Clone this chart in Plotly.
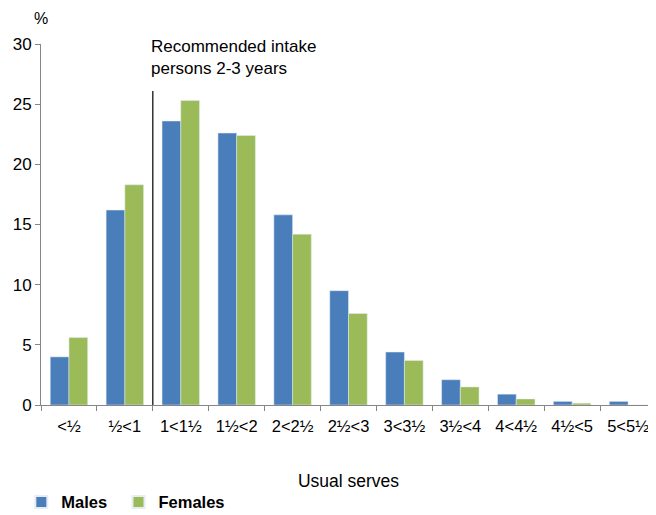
import plotly.graph_objects as go

categories = ["<½", "½<1", "1<1½", "1½<2", "2<2½", "2½<3", "3<3½", "3½<4", "4<4½", "4½<5", "5<5½"]
males = [4.0, 16.2, 23.6, 22.6, 15.8, 9.5, 4.4, 2.1, 0.9, 0.3, 0.3]
females = [5.6, 18.3, 25.3, 22.4, 14.2, 7.6, 3.7, 1.5, 0.5, 0.15, 0.0]
y_ticks = [0, 5, 10, 15, 20, 25, 30]
line_height = 26.1

BLUE = "#4A7EBB"
GREEN = "#9BBB59"
FONT = "Liberation Sans, Arial, sans-serif"

fig = go.Figure()
fig.add_trace(go.Bar(x=categories, y=males, name="Males", marker_color=BLUE, legend="legend"))
fig.add_trace(go.Bar(x=categories, y=females, name="Females", marker_color=GREEN, legend="legend2"))

legend_common = dict(orientation="h", xanchor="left", y=-0.318, yanchor="bottom",
                     font=dict(size=16.5, family=FONT, weight="bold"),
                     itemsizing="constant", itemwidth=30, bgcolor="rgba(0,0,0,0)")

fig.update_layout(
    width=648, height=507,
    margin=dict(l=33, r=0, t=36, b=110, autoexpand=False),
    paper_bgcolor="white", plot_bgcolor="white",
    barmode="group", bargap=0.33, bargroupgap=0,
    font=dict(family=FONT, size=16, color="#000000"),
    showlegend=True,
    legend=dict(x=-0.032, **legend_common),
    legend2=dict(x=0.126, **legend_common),
    xaxis=dict(
        type="category", showline=True, linecolor="#868686", linewidth=1,
        ticks="outside", tickson="boundaries", tickcolor="#868686", ticklen=5,
        showgrid=False, tickfont=dict(size=16.5, family=FONT), automargin=False,
        ticklabelstandoff=6,
        title=dict(text="Usual serves", font=dict(size=17.5, family=FONT), standoff=40),
    ),
    yaxis=dict(
        range=[0, 30], tickvals=y_ticks, showline=True, linecolor="#868686", linewidth=1,
        ticks="outside", tickcolor="#868686", ticklen=5, showgrid=False, zeroline=False,
        tickfont=dict(size=17, family=FONT), automargin=False,
    ),
    shapes=[dict(type="line", xref="x", yref="y", x0=1.5, x1=1.5, y0=0, y1=line_height,
                 line=dict(color="black", width=1.2))],
    annotations=[
        dict(text="Recommended intake<br>persons 2-3 years", xref="x", yref="paper", x=1.5, y=1.026,
             xanchor="left", yanchor="top", showarrow=False, align="left",
             font=dict(size=17, family=FONT), xshift=-4),
        dict(text="%", xref="paper", yref="paper", x=0, y=1.072, xanchor="center",
             yanchor="middle", showarrow=False, font=dict(size=16, family=FONT)),
    ],
)

fig.write_html("out.html")
